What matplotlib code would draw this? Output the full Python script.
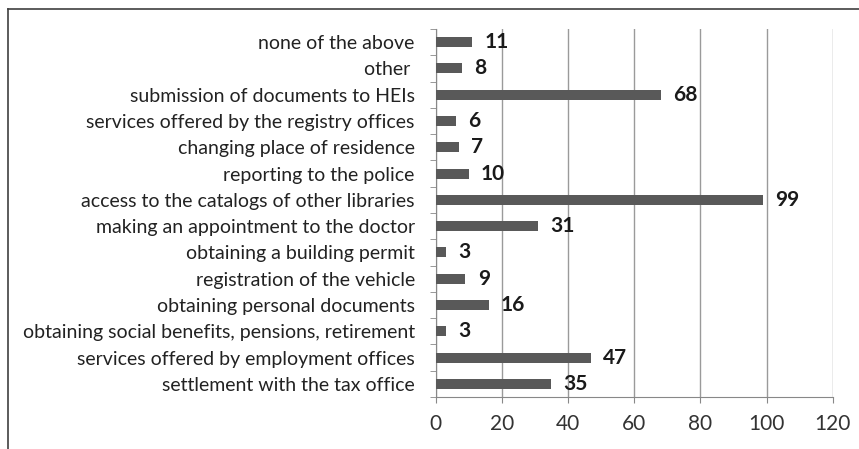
import matplotlib.pyplot as plt
import numpy as np

categories = [
    "settlement with the tax office",
    "services offered by employment offices",
    "obtaining social benefits, pensions, retirement",
    "obtaining personal documents",
    "registration of the vehicle",
    "obtaining a building permit",
    "making an appointment to the doctor",
    "access to the catalogs of other libraries",
    "reporting to the police",
    "changing place of residence",
    "services offered by the registry offices",
    "submission of documents to HEIs",
    "other ",
    "none of the above",
]
values = [35, 47, 3, 16, 9, 3, 31, 99, 10, 7, 6, 68, 8, 11]
xticks = [0, 20, 40, 60, 80, 100, 120]

plt.rcParams['font.family'] = ['Lato', 'DejaVu Sans']

fig = plt.figure(figsize=(8.59, 4.49), dpi=100)
# outer chart frame (top and left edges visible)
fig.add_artist(plt.Line2D([8/859, 1.0], [1 - 9/449, 1 - 9/449], color="#404040", lw=1.2))
fig.add_artist(plt.Line2D([8/859, 8/859], [0, 1 - 9/449], color="#404040", lw=1.2))

ax = fig.add_axes([435.7/859, 1 - 397/449, (832.7 - 435.7)/859, (397 - 29)/449])
y = np.arange(len(categories))
ax.barh(y, values, height=0.38, color="#595959", zorder=3)
for yi, v in zip(y, values):
    ax.text(v + 3.7, yi, str(v), va="center", ha="left", fontsize=15,
            fontweight="bold", color="#1a1a1a")

ax.set_xlim(0, 120)
ax.set_ylim(-0.5, len(categories) - 0.5)
ax.set_xticks(xticks)
ax.set_xticklabels([str(t) for t in xticks], fontsize=15, color="#333333")
ax.set_yticks(y)
ax.set_yticklabels(categories, fontsize=14, color="#222222")
ax.tick_params(axis="y", length=0, pad=15)
ax.set_yticks(np.arange(-0.5, len(categories), 1), minor=True)
ax.tick_params(axis="y", which="minor", length=4, color="#888888", direction="out")
ax.tick_params(axis="x", length=4, color="#888888", direction="out", pad=8)

ax.grid(axis="x", color="#9a9a9a", lw=1, zorder=0)
for s in ["top", "right"]:
    ax.spines[s].set_visible(False)
for s in ["left", "bottom"]:
    ax.spines[s].set_color("#888888")

fig.savefig("out.png", dpi=100)
